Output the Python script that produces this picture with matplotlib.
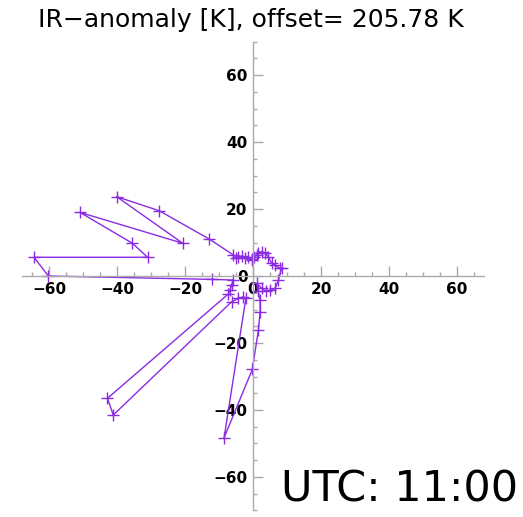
import matplotlib
matplotlib.use("Agg")
import matplotlib.pyplot as plt
from matplotlib.ticker import MultipleLocator

title_text = "IR\u2212anomaly [K], offset= 205.78 K"
time_text = "UTC: 11:00"

x_vals = [-0.4, -1.5, -2.4, -3.2, -4.3, -5.0, -5.8, -12.8, -27.6, -40.1, -20.7, -50.9,
          -35.5, -31.0, -64.4, -60.2, -12.0, -5.8, -6.3, -6.8, -7.3, -42.8, -41.1,
          -6.3, -4.3, -2.8, -2.1, -8.5, -0.2, 1.6, 2.1, 2.1, 1.5, 1.1, 2.6, 3.8, 5.0,
          6.5, 7.5, 8.4, 7.9, 6.5, 5.5, 4.5, 3.5, 2.6, 1.6, 1.1, 0.3, -0.2]
y_vals = [4.8, 5.6, 5.3, 6.0, 5.8, 5.4, 6.3, 11.0, 19.5, 23.7, 9.8, 19.0,
          9.8, 5.6, 5.6, 0.0, -1.0, -1.2, -2.7, -4.2, -5.4, -36.5, -41.5,
          -7.7, -6.7, -6.2, -6.7, -48.3, -27.9, -16.1, -10.7, -7.2, -4.5, -2.2, -3.7, -4.6, -4.2,
          -3.7, -1.2, 2.3, 2.3, 3.3, 3.8, 5.8, 6.8, 7.3, 7.0, 6.3, 5.6, 5.0]

x_ticks = [-60, -40, -20, 0, 20, 40, 60]
y_ticks = [-60, -40, -20, 0, 20, 40, 60]

fig = plt.figure(figsize=(5.23, 5.17), dpi=100)
ax = fig.add_axes([0.0417, 0.0126, 0.884, 0.907])
ax.plot(x_vals, y_vals, color="#8a2be2", lw=1.0, marker="+", ms=8, mew=1.0)

ax.set_xlim(-68, 68)
ax.set_ylim(-70, 70)
for s in ["top", "right"]:
    ax.spines[s].set_visible(False)
ax.spines["left"].set_position(("data", 0))
ax.spines["bottom"].set_position(("data", 0))
for s in ["left", "bottom"]:
    ax.spines[s].set_color("#aaaaaa")
    ax.spines[s].set_linewidth(1.0)

ax.set_xticks(x_ticks)
ax.set_yticks(y_ticks)
ax.xaxis.set_minor_locator(MultipleLocator(5))
ax.yaxis.set_minor_locator(MultipleLocator(5))
ax.tick_params(which="major", direction="in", length=7, width=1, color="#aaaaaa",
               labelsize=11, pad=4)
ax.tick_params(which="minor", direction="in", length=3, width=1, color="#aaaaaa")
for lab in ax.get_xticklabels() + ax.get_yticklabels():
    lab.set_fontweight("bold")
ax.patch.set_alpha(0)

fig.text(0.48, 0.962, title_text, ha="center", va="center", fontsize=18)
fig.text(0.99, 0.012, time_text, ha="right", va="bottom", fontsize=31)

fig.savefig("out.png", dpi=100)
